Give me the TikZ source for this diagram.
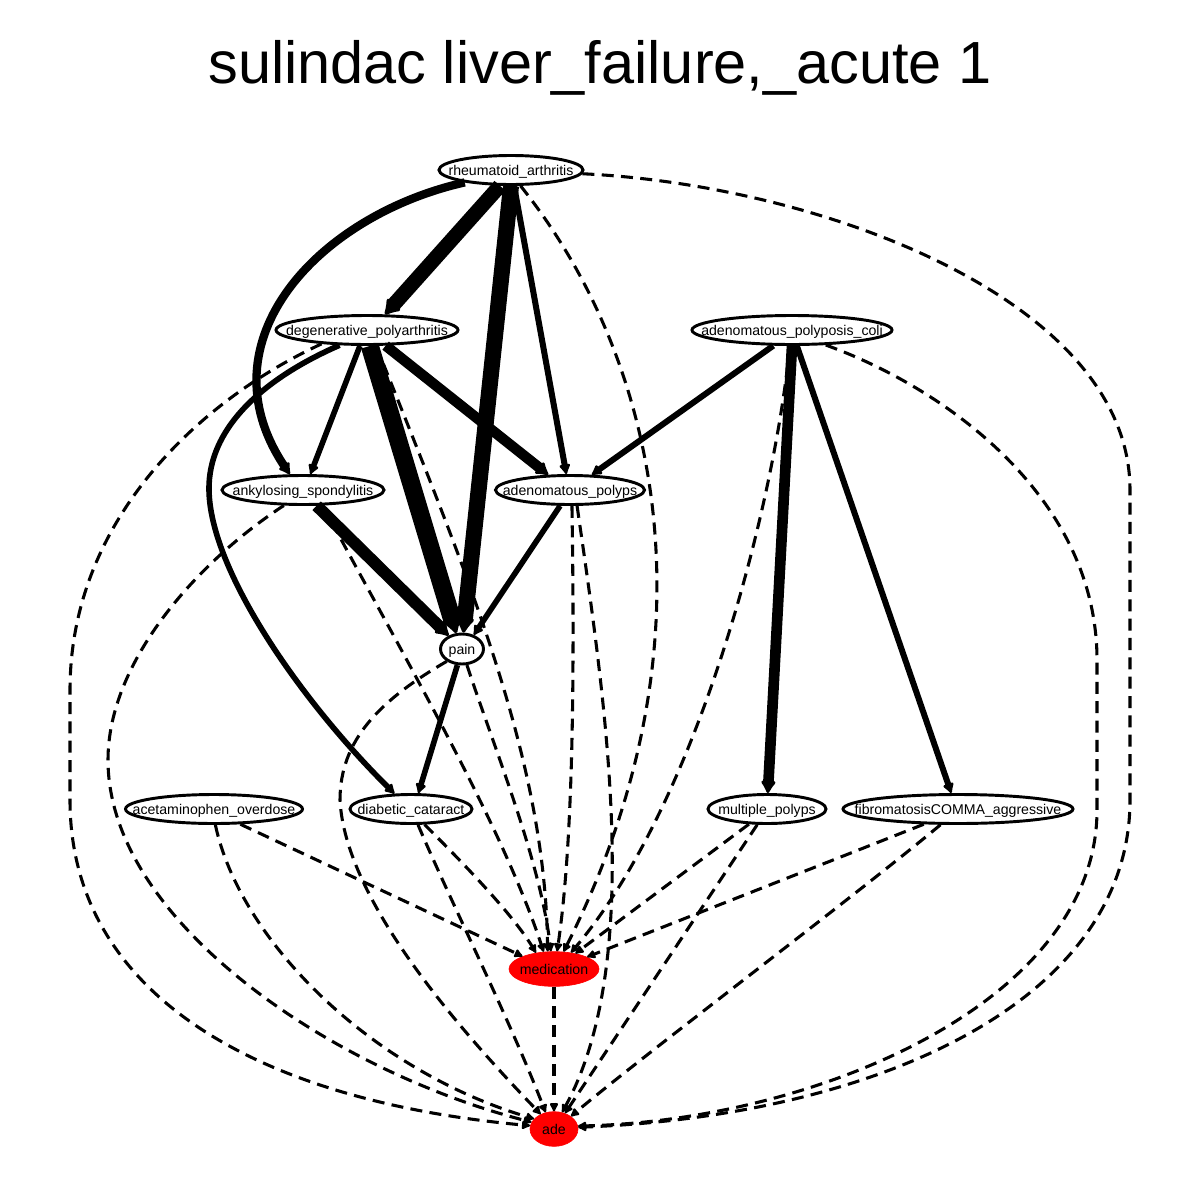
\documentclass[tikz,border=0pt]{standalone}
\usepackage{fontspec}
\setmainfont{Liberation Sans}
\usetikzlibrary{shapes.geometric,arrows.meta}
\newcommand{\nodefont}{\fontsize{10.6}{13}\selectfont}
\begin{document}
\begin{tikzpicture}[x=0.75pt,y=-0.75pt,
  nd/.style={ellipse, draw, line width=2.2pt, inner sep=0pt, font=\nodefont,
     text height=9.5pt, text depth=2pt, minimum height=21.75pt},
  rednd/.style={nd, draw=red, fill=red, line width=0.5pt},
  sol/.style={-{Latex[length=6.5pt 0.55, width=5.5pt 1.0, round]}, line join=round},
  dsh/.style={sol, line width=2.3pt, dash pattern=on 9pt off 5.5pt}]
\useasboundingbox (0,0) rectangle (1200,1200);
\fill[white] (0,0) rectangle (1200,1200);
\node[font=\fontsize{44.6}{50}\selectfont, anchor=base] (title) at (600,83) {sulindac liver\_failure,\_acute 1};

\node[nd, minimum width=108pt] (RA) at (511,170) {\makebox[0pt]{rheumatoid\_arthritis}};
\node[nd, minimum width=136.5pt] (DP) at (367,330) {\makebox[0pt]{degenerative\_polyarthritis}};
\node[nd, minimum width=150pt] (APC) at (792,330) {\makebox[0pt]{adenomatous\_polyposis\_coli}};
\node[nd, minimum width=121.5pt] (AS) at (303,490) {\makebox[0pt]{ankylosing\_spondylitis}};
\node[nd, minimum width=111.75pt] (AP) at (570,490) {\makebox[0pt]{adenomatous\_polyps}};
\node[nd, minimum width=32.25pt, minimum height=22.5pt] (pain) at (462,649) {\makebox[0pt]{pain}};
\node[nd, minimum width=132.75pt] (AO) at (214,809) {\makebox[0pt]{acetaminophen\_overdose}};
\node[nd, minimum width=91.5pt] (DC) at (411,809) {\makebox[0pt]{diabetic\_cataract}};
\node[nd, minimum width=88.5pt] (MP) at (767,809) {\makebox[0pt]{multiple\_polyps}};
\node[nd, minimum width=172.5pt] (FA) at (958,809) {\makebox[0pt]{fibromatosisCOMMA\_aggressive}};
\node[rednd, minimum width=67.5pt, minimum height=26pt] (med) at (554,969) {\makebox[0pt]{medication}};
\node[rednd, minimum width=36pt, minimum height=26pt] (ade) at (554,1129) {\makebox[0pt]{ade}};

% solid edges
\draw[sol, line width=6.2pt] (RA.195) .. controls (320,215) and (200,340) .. (AS.130);
\draw[sol, line width=11pt] (RA.235) -- (DP.41);
\draw[sol, line width=12pt] (RA.270) -- (pain.85);
\draw[sol, line width=4.5pt] (RA.281) -- (AP.103);
\draw[sol, line width=4.2pt] (DP.246) -- (AS.65);
\draw[sol, line width=13.5pt] (DP.280) -- (pain.110);
\draw[sol, line width=7.8pt] (DP.320) -- (AP.145);
\draw[sol, line width=4.2pt] (DP.209) .. controls (260,380) and (208,430) .. (209,490)
   .. controls (210,570) and (300,700) .. (DC.137);
\draw[sol, line width=4.5pt] (APC.220) -- (AP.35);
\draw[sol, line width=8pt] (APC.270) -- (MP.87);
\draw[sol, line width=4.5pt] (APC.287) -- (FA.113);
\draw[sol, line width=9pt] (AS.311) -- (pain.135);
\draw[sol, line width=4.2pt] (AP.238) -- (pain.50);
\draw[sol, line width=4.2pt] (pain.254) -- (DC.65);

% dashed edges
\draw[dsh] (RA.301) .. controls (660,360) and (720,640) .. (med.61);
\draw[dsh] (RA.357) .. controls (820,185) and (1130,300) .. (1130,490) -- (1130,800)
   .. controls (1130,1000) and (880,1115) .. (ade.4);
\draw[dsh] (DP.197) .. controls (200,400) and (70,520) .. (70,690) -- (70,800)
   .. controls (70,990) and (250,1100) .. (ade.172);
\draw[dsh] (DP.300) .. controls (470,580) and (545,760) .. (med.110);
\draw[dsh] (APC.262) .. controls (775,500) and (700,800) .. (med.44);
\draw[dsh] (APC.336) .. controls (950,390) and (1097,500) .. (1097,660) -- (1097,810)
   .. controls (1097,1000) and (820,1120) .. (ade.7);
\draw[dsh] (AS.219) .. controls (200,560) and (108,660) .. (108,760)
   .. controls (108,920) and (330,1070) .. (ade.163);
\draw[dsh] (AS.322) .. controls (400,650) and (500,820) .. (med.121);
\draw[dsh] (AP.277) .. controls (575,700) and (572,850) .. (med.80);
\draw[dsh] (AP.294) .. controls (605,700) and (645,960) .. (ade.64);
\draw[dsh] (pain.219) .. controls (380,700) and (340,740) .. (340,800)
   .. controls (345,900) and (460,1030) .. (ade.132);
\draw[dsh] (pain.287) .. controls (495,750) and (540,860) .. (med.100);
\draw[dsh] (AO.330) -- (med.158);
\draw[dsh] (AO.275) .. controls (240,940) and (370,1070) .. (ade.153);
\draw[dsh] (DC.311) .. controls (450,850) and (510,910) .. (med.138);
\draw[dsh] (DC.294) .. controls (450,900) and (510,1020) .. (ade.117);
\draw[dsh] (MP.220) -- (med.36);
\draw[dsh] (MP.238) -- (ade.55);
\draw[dsh] (FA.204) -- (med.20);
\draw[dsh] (FA.222) .. controls (850,900) and (650,1050) .. (ade.37);
\draw[dsh] (med.270) -- (ade.90);
\end{tikzpicture}
\end{document}
